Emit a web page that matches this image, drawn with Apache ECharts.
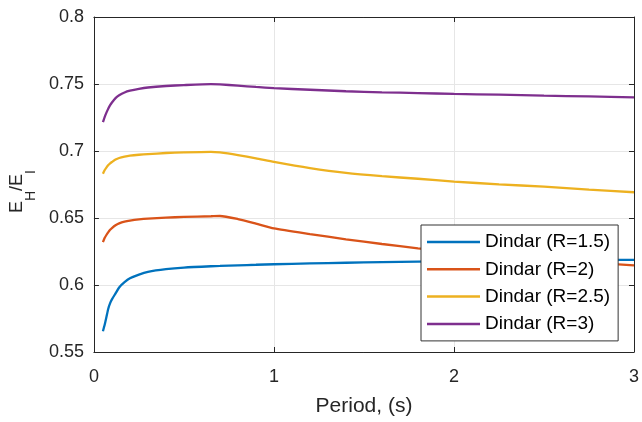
<!DOCTYPE html>
<html>
<head>
<meta charset="utf-8">
<script src="https://cdn.jsdelivr.net/npm/echarts@6/dist/echarts.min.js"></script>
<style>html,body{margin:0;padding:0;background:#fff}#c{width:642px;height:422px}</style>
</head>
<body>
<div id="c"></div>
<script>
var periods = [0.05,0.06,0.07,0.08,0.09,0.1,0.12,0.14,0.17,0.2,0.25,0.3,0.4,0.5,0.65,0.7,0.8,0.9,1.0,1.2,1.4,1.6,1.8,2.0,2.25,2.5,2.75,3.0];
var seriesNames = ['Dindar (R=1.5)','Dindar (R=2)','Dindar (R=2.5)','Dindar (R=3)'];
var r15 = [0.5655,0.5705,0.5765,0.5825,0.5865,0.5893,0.5937,0.5982,0.6021,0.6050,0.6078,0.6098,0.6118,0.6130,0.6140,0.6142,0.6147,0.6151,0.6155,0.6161,0.6166,0.6171,0.6175,0.6178,0.6181,0.6184,0.6186,0.6188];
var r2  = [0.632,0.6352,0.6375,0.6395,0.6412,0.6425,0.6446,0.6460,0.6473,0.6481,0.6490,0.6496,0.6503,0.6508,0.6513,0.6515,0.6492,0.6458,0.6422,0.638,0.6341,0.6306,0.6274,0.6246,0.6215,0.619,0.6167,0.6147];
var r25 = [0.683,0.6858,0.6878,0.6895,0.6908,0.6918,0.6936,0.6948,0.6958,0.6965,0.6972,0.6977,0.6985,0.699,0.6994,0.6989,0.6969,0.6945,0.6918,0.6872,0.6836,0.6812,0.6793,0.6772,0.6751,0.6734,0.6712,0.6692];
var r3  = [0.7215,0.7255,0.7288,0.7318,0.7342,0.7362,0.7395,0.7416,0.7437,0.7450,0.7464,0.7474,0.7485,0.7492,0.7499,0.7497,0.7488,0.7478,0.7469,0.7457,0.7446,0.7438,0.7432,0.7426,0.742,0.7413,0.7407,0.74];
var colors = ['#0072BD','#D95319','#EDB120','#7E2F8E'];
var xTicks = [0,1,2,3];
var yTicks = [0.55,0.6,0.65,0.7,0.75,0.8];

function pairs(ys){ return periods.map(function(p,i){ return [p, ys[i]]; }); }
var allY = [r15, r2, r25, r3];

var chart = echarts.init(document.getElementById('c'), null, {renderer:'canvas'});
var axisCol = '#262626';
var font = 'Liberation Sans, Arial, Helvetica, sans-serif';
var option = {
  animation: false,
  backgroundColor: '#fff',
  grid: {left: 92.5, right: 5, top: 17, bottom: 66, containLabel: false},
  legend: {
    orient: 'vertical', left: 421, top: 225,
    data: seriesNames.map(function(n){ return {name: n, icon: 'rect'}; }),
    itemWidth: 53, itemHeight: 2.5, itemGap: 7.3,
    padding: [7, 8, 7, 6],
    backgroundColor: '#fff', borderColor: '#333', borderWidth: 1, borderRadius: 0,
    textStyle: {fontFamily: font, fontSize: 19, color: '#000', lineHeight: 20},
    z: 10
  },
  xAxis: [{
    type: 'value', min: xTicks[0], max: xTicks[xTicks.length-1], interval: 1,
    name: 'Period, (s)', nameLocation: 'middle', nameGap: 44,
    nameTextStyle: {fontFamily: font, fontSize: 21, color: axisCol},
    axisLine: {show: true, onZero: false, lineStyle: {color: axisCol, width: 1}},
    axisTick: {show: true, inside: true, length: 5, lineStyle: {color: axisCol}},
    axisLabel: {fontFamily: font, fontSize: 18, color: axisCol, margin: 16},
    splitLine: {show: true, lineStyle: {color: '#e6e6e6', width: 1}}
  },{
    type: 'value', position: 'top', min: 0, max: 3, interval: 1,
    axisLine: {show: true, onZero: false, lineStyle: {color: axisCol, width: 1}},
    axisTick: {show: true, inside: true, length: 5, lineStyle: {color: axisCol}},
    axisLabel: {show: false}, splitLine: {show: false}
  }],
  yAxis: [{
    type: 'value', min: yTicks[0], max: yTicks[yTicks.length-1], interval: 0.05,
    name: '{m|E}{s|H}{m|/E}{e|I}', nameLocation: 'middle', nameGap: 56,
    nameTextStyle: {
      fontFamily: font, fontSize: 18, color: axisCol,
      rich: {
        m: {fontFamily: font, fontSize: 18, color: axisCol, lineHeight: 18, padding: [0,0,12,0]},
        s: {fontFamily: font, fontSize: 14, color: axisCol, lineHeight: 14, padding: [16,0,0,0]},
        e: {fontFamily: font, fontSize: 14, color: axisCol, lineHeight: 14, padding: [16,14,0,0]}
      }
    },
    axisLine: {show: true, onZero: false, lineStyle: {color: axisCol, width: 1}},
    axisTick: {show: true, inside: true, length: 5, lineStyle: {color: axisCol}},
    axisLabel: {fontFamily: font, fontSize: 18, color: axisCol, margin: 10},
    splitLine: {show: true, lineStyle: {color: '#e6e6e6', width: 1}}
  },{
    type: 'value', position: 'right', min: 0.55, max: 0.8, interval: 0.05,
    axisLine: {show: true, onZero: false, lineStyle: {color: axisCol, width: 1}},
    axisTick: {show: true, inside: true, length: 5, lineStyle: {color: axisCol}},
    axisLabel: {show: false}, splitLine: {show: false}
  }],
  series: seriesNames.map(function(n, i){
    return {
      name: n, type: 'line', data: pairs(allY[i]),
      xAxisIndex: 0, yAxisIndex: 0,
      symbol: 'none', smooth: 0.2,
      lineStyle: {color: colors[i], width: 2.3},
      itemStyle: {color: colors[i]}
    };
  })
};
chart.setOption(option);
</script>
</body>
</html>
